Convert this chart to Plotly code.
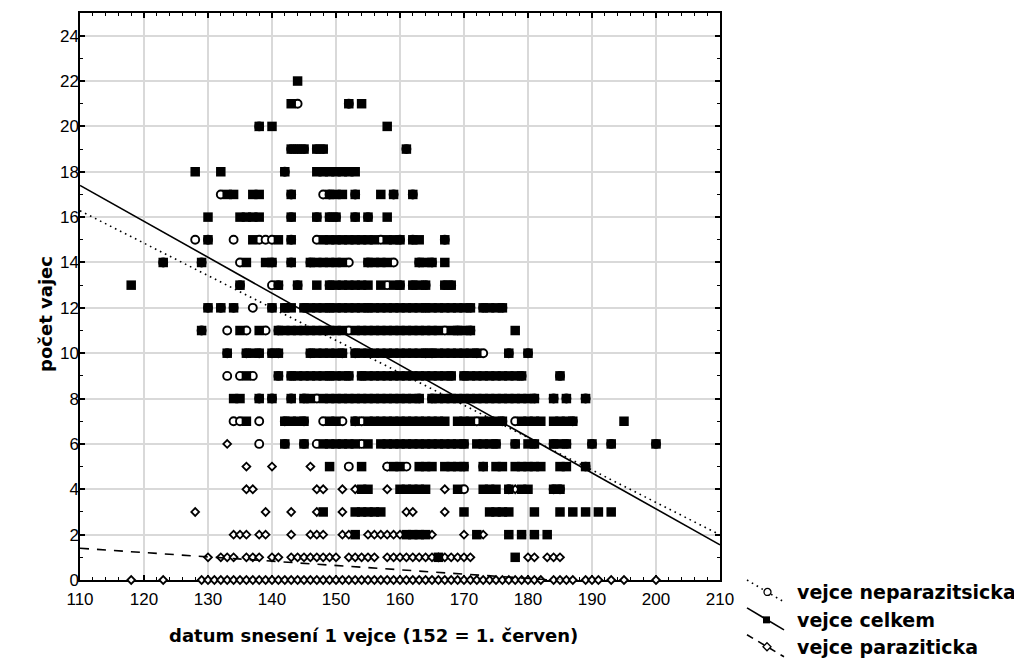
import plotly.graph_objects as go

# ---------------- data ----------------
# x = datum snesení (day of year), y = počet vajec
# vejce celkem (filled squares), one list per egg count
celkem_22 = [144]
celkem_21 = [143, 152, 154]
celkem_20 = [138, 140, 158]
celkem_19 = [143, 144, 145, 147, 148, 161]
celkem_18 = [128, 132, 142, 147, 148, 149, 150, 151, 152, 153]
celkem_17 = [133, 134, 137, 138, 143, 149, 150, 151, 153, 157, 159, 162]
celkem_16 = [130, 135, 136, 137, 138, 143, 147, 149, 150, 153, 155, 158]
celkem_15 = [130, 137, 141, 143, 148, 149, 150, 151, 152, 153, 154, 155, 156, 158,
             159, 160, 162, 163, 167]
celkem_14 = [123, 129, 136, 139, 140, 143, 146, 147, 148, 149, 150, 151, 155, 156,
             157, 158, 163, 164, 165, 167]
celkem_13 = [118, 135, 141, 144, 147, 149, 150, 151, 152, 153, 154, 155, 157, 159,
             160, 162, 163, 164, 167, 168]
celkem_12 = [130, 132, 134, 140, 142, 143, 145, 146, 147, 148, 149, 150, 151, 152,
             153, 154, 155, 156, 157, 158, 159, 160, 161, 162, 163, 164, 165, 166,
             167, 168, 169, 170, 171, 173, 174, 175, 176]
celkem_11 = [129, 135, 138, 141, 142, 143, 144, 145, 146, 147, 148, 149, 150, 151,
             153, 154, 155, 156, 157, 158, 159, 160, 161, 162, 163, 164, 165, 166,
             168, 169, 170, 171, 178]
celkem_10 = [133, 136, 137, 138, 140, 141, 146, 147, 148, 149, 150, 151, 153, 154,
             155, 156, 157, 158, 159, 160, 161, 162, 163, 164, 165, 166, 167, 168,
             169, 170, 171, 172, 177, 180]
celkem_9 = [136, 141, 143, 144, 145, 146, 147, 148, 149, 150, 151, 152, 154, 155,
            156, 157, 158, 159, 160, 161, 162, 163, 164, 165, 166, 167, 168, 170,
            171, 172, 173, 174, 175, 176, 177, 178, 179, 185]
celkem_8 = [134, 135, 138, 140, 143, 145, 146, 148, 149, 150, 151, 152, 153, 154,
            155, 156, 157, 158, 159, 160, 161, 162, 163, 165, 166, 167, 168, 169,
            170, 171, 172, 173, 174, 175, 176, 177, 178, 179, 180, 181, 184, 186, 189]
celkem_7 = [136, 142, 143, 144, 145, 149, 150, 153, 155, 156, 157, 158, 159, 160,
            161, 162, 163, 164, 165, 166, 167, 169, 170, 171, 173, 174, 175, 176,
            179, 180, 181, 182, 184, 185, 186, 187, 195]
celkem_6 = [142, 145, 148, 149, 150, 151, 152, 153, 155, 157, 158, 159, 160, 161,
            162, 163, 164, 165, 166, 167, 168, 169, 170, 172, 173, 174, 175, 178,
            180, 181, 184, 185, 186, 190, 193, 200]
celkem_5 = [149, 154, 159, 160, 163, 164, 165, 167, 168, 169, 170, 173, 175, 176,
            178, 179, 180, 181, 182, 185, 186, 189]
celkem_4 = [154, 155, 160, 161, 162, 163, 164, 169, 173, 174, 175, 177, 179, 180,
            184, 185]
celkem_3 = [148, 153, 154, 155, 156, 157, 170, 174, 175, 176, 177, 181, 185, 187,
            189, 191, 193]
celkem_2 = [153, 161, 162, 163, 164, 172, 177, 179, 181, 183]
celkem_1 = [166, 178]

# vejce neparazitsicka (open circles)
nepar_21 = [144, 152]
nepar_20 = [138]
nepar_19 = [143, 144, 145, 147, 148, 161]
nepar_18 = [142]
nepar_17 = [132, 143, 148, 149, 153, 159, 162]
nepar_16 = [143, 147, 149, 150, 153, 155]
nepar_15 = [128, 130, 134, 138, 139, 140, 143, 147, 157, 160, 162, 167]
nepar_14 = [123, 129, 135, 140, 143, 146, 152, 155, 159, 163, 165]
nepar_13 = [135, 140, 141, 144, 149, 158, 160, 162, 164, 167, 168]
nepar_12 = [130, 132, 134, 137, 140, 142, 145, 149, 155, 164, 171, 173, 176]
nepar_11 = [129, 133, 136, 139, 141, 152, 167, 169, 171]
nepar_10 = [133, 136, 138, 140, 141, 146, 151, 153, 164, 165, 172, 173, 177, 180]
nepar_9 = [133, 135, 137, 141, 143, 149, 152, 154, 168, 170, 179, 185]
nepar_8 = [138, 140, 143, 145, 147, 163, 165, 181, 184, 186, 189]
nepar_7 = [134, 135, 138, 142, 145, 148, 151, 153, 154, 172, 176, 178, 187]
nepar_6 = [138, 142, 145, 147, 154, 170, 175, 178, 181, 184, 186, 190, 193, 200]
nepar_5 = [152, 158, 161, 170, 173, 189]
nepar_4 = [170, 177, 184, 185]

# vejce paraziticka (open diamonds)
paraz_6 = [133]
paraz_5 = [136, 140, 146, 158]
paraz_4 = [136, 137, 147, 148, 151, 153, 158, 167, 178]
paraz_3 = [128, 139, 143, 147, 151, 161, 162, 167]
paraz_2 = [134, 135, 136, 138, 139, 143, 146, 147, 148, 151, 152, 155, 156, 157,
           158, 159, 160, 165, 170, 173]
paraz_1 = [130, 132, 133, 134, 136, 137, 138, 140, 141, 143, 144, 145, 146, 147,
           148, 149, 150, 152, 153, 154, 155, 156, 158, 159, 160, 161, 162, 163,
           164, 165, 166, 167, 168, 169, 170, 171, 180, 181, 183, 184, 185]
paraz_0 = [118, 123, 129, 130, 131, 132, 133, 134, 135, 136, 137, 138, 139, 140,
           141, 142, 143, 144, 145, 146, 147, 148, 149, 150, 151, 152, 153, 154,
           155, 156, 157, 158, 159, 160, 161, 162, 163, 164, 165, 166, 167, 168,
           169, 170, 171, 172, 173, 174, 175, 176, 177, 178, 179, 180, 181, 182,
           184, 185, 186, 187, 189, 190, 191, 193, 195, 200]

# linear fits: (intercept, slope)
fit_neparazit = (32.00, -0.1429)
fit_celkem = (34.835, -0.1585)
fit_paraziticka = (3.49, -0.0190)
fit_x = [110, 210]

x_ticks = [110, 120, 130, 140, 150, 160, 170, 180, 190, 200, 210]
y_ticks = [0, 2, 4, 6, 8, 10, 12, 14, 16, 18, 20, 22, 24]

legend_labels = ["vejce neparazitsicka", "vejce celkem", "vejce paraziticka"]
x_title = "datum snesení 1 vejce (152 = 1. červen)"
y_title = "počet vajec"

# ---------------- build ----------------
def collect(levels):
    xs, ys = [], []
    for yv, xlist in levels:
        for xv in xlist:
            xs.append(xv)
            ys.append(yv)
    return xs, ys

celkem = collect([(22, celkem_22), (21, celkem_21), (20, celkem_20), (19, celkem_19),
                  (18, celkem_18), (17, celkem_17), (16, celkem_16), (15, celkem_15),
                  (14, celkem_14), (13, celkem_13), (12, celkem_12), (11, celkem_11),
                  (10, celkem_10), (9, celkem_9), (8, celkem_8), (7, celkem_7),
                  (6, celkem_6), (5, celkem_5), (4, celkem_4), (3, celkem_3),
                  (2, celkem_2), (1, celkem_1)])
nepar = collect([(21, nepar_21), (20, nepar_20), (19, nepar_19), (18, nepar_18),
                 (17, nepar_17), (16, nepar_16), (15, nepar_15), (14, nepar_14),
                 (13, nepar_13), (12, nepar_12), (11, nepar_11), (10, nepar_10),
                 (9, nepar_9), (8, nepar_8), (7, nepar_7), (6, nepar_6),
                 (5, nepar_5), (4, nepar_4)])
paraz = collect([(6, paraz_6), (5, paraz_5), (4, paraz_4), (3, paraz_3),
                 (2, paraz_2), (1, paraz_1), (0, paraz_0)])

def fit_line(fit):
    a, b = fit
    return [a + b * xv for xv in fit_x]

fig = go.Figure()
fig.add_trace(go.Scatter(x=paraz[0], y=paraz[1], mode="markers", cliponaxis=False,
                         marker=dict(symbol="diamond", size=6, color="white",
                                     line=dict(color="black", width=1.8)),
                         name=legend_labels[2]))
fig.add_trace(go.Scatter(x=nepar[0], y=nepar[1], mode="markers", cliponaxis=False,
                         marker=dict(symbol="circle", size=8, color="white",
                                     line=dict(color="black", width=1.9)),
                         name=legend_labels[0]))
fig.add_trace(go.Scatter(x=celkem[0], y=celkem[1], mode="markers", cliponaxis=False,
                         marker=dict(symbol="square", size=9.5, color="black",
                                     line=dict(width=0)),
                         name=legend_labels[1]))
fig.add_trace(go.Scatter(x=fit_x, y=fit_line(fit_neparazit), mode="lines",
                         line=dict(color="black", width=1.6, dash="1.6px,4px")))
fig.add_trace(go.Scatter(x=fit_x, y=fit_line(fit_celkem), mode="lines",
                         line=dict(color="black", width=1.6)))
fig.add_trace(go.Scatter(x=fit_x, y=fit_line(fit_paraziticka), mode="lines",
                         line=dict(color="black", width=1.6, dash="9px,8px")))

# ---------------- layout ----------------
# the page body adds an 8 px margin, so the figure is 8 px smaller than the window
OFF = 8
W, H = 1022 - OFF, 661 - OFF
L, R, T, B = 72, 302, 3, 81
pw, ph = W - L - R, H - T - B

def sx(xs):   # screen pixel -> paper x
    return (xs - OFF - L) / pw

def sy(ys):   # screen pixel -> paper y
    return (H - B - (ys - OFF)) / ph

tick_font = dict(family="Liberation Sans, Arial", size=17, color="black")
axis_common = dict(showline=True, linecolor="black", linewidth=1.5, mirror="ticks",
                   ticks="inside", ticklen=5, tickwidth=1.5, tickcolor="black",
                   showgrid=True, gridcolor="#d9d9d9", gridwidth=1.5,
                   zeroline=False, layer="below traces", tickfont=tick_font)

fig.update_xaxes(range=[110, 210], tickvals=x_ticks, ticklabelstandoff=3,
                 minor=dict(dtick=2, tick0=110, ticks="inside", ticklen=3,
                            tickcolor="black", tickwidth=1, showgrid=False),
                 **axis_common)
fig.update_yaxes(range=[0, 25], tickvals=y_ticks, ticklabelstandoff=-4,
                 minor=dict(dtick=1, tick0=0, ticks="inside", ticklen=3,
                            tickcolor="black", tickwidth=1, showgrid=False),
                 **axis_common)

title_font = dict(family="DejaVu Sans", size=18, color="black", weight="bold")
annotations = [
    dict(text=x_title, x=sx(373), y=sy(636), xref="paper", yref="paper",
         showarrow=False, xanchor="center", yanchor="middle", font=title_font),
    dict(text=y_title, x=sx(46), y=sy(313), xref="paper", yref="paper",
         showarrow=False, xanchor="center", yanchor="middle", textangle=-90,
         font=title_font),
]
legend_font = dict(family="DejaVu Sans", size=19, color="black", weight="bold")
row_y = [592, 620, 647]
for lab, ry in zip(legend_labels, row_y):
    annotations.append(dict(text=lab, x=sx(795), y=sy(ry), xref="paper", yref="paper",
                            showarrow=False, xanchor="left", yanchor="middle",
                            font=legend_font))

shapes = []
dashes = ["1.6px,4px", "solid", "7px,6px"]
for ry, dsh in zip(row_y, dashes):
    shapes.append(dict(type="line", xref="paper", yref="paper",
                       x0=sx(747), y0=sy(ry - 12), x1=sx(784), y1=sy(ry + 10),
                       line=dict(color="black", width=1.6, dash=dsh)))
# legend key glyphs
r0 = row_y[0]
shapes.append(dict(type="circle", xref="paper", yref="paper",
                   x0=sx(764), x1=sx(771), y0=sy(r0 - 3.5), y1=sy(r0 + 3.5),
                   fillcolor="white", line=dict(color="black", width=1.3)))
r1 = row_y[1]
shapes.append(dict(type="rect", xref="paper", yref="paper",
                   x0=sx(763), x1=sx(770), y0=sy(r1 - 3.5), y1=sy(r1 + 3.5),
                   fillcolor="black", line=dict(color="black", width=0)))
r2 = row_y[2]
shapes.append(dict(type="path", xref="paper", yref="paper",
                   path=(f"M {sx(767)} {sy(r2 - 4)} L {sx(771)} {sy(r2)} "
                         f"L {sx(767)} {sy(r2 + 4)} L {sx(763)} {sy(r2)} Z"),
                   fillcolor="white", line=dict(color="black", width=1.3)))

fig.update_layout(width=W, height=H, margin=dict(l=L, r=R, t=T, b=B),
                  paper_bgcolor="white", plot_bgcolor="white", showlegend=False,
                  annotations=annotations, shapes=shapes)

fig.write_html("out.html")
